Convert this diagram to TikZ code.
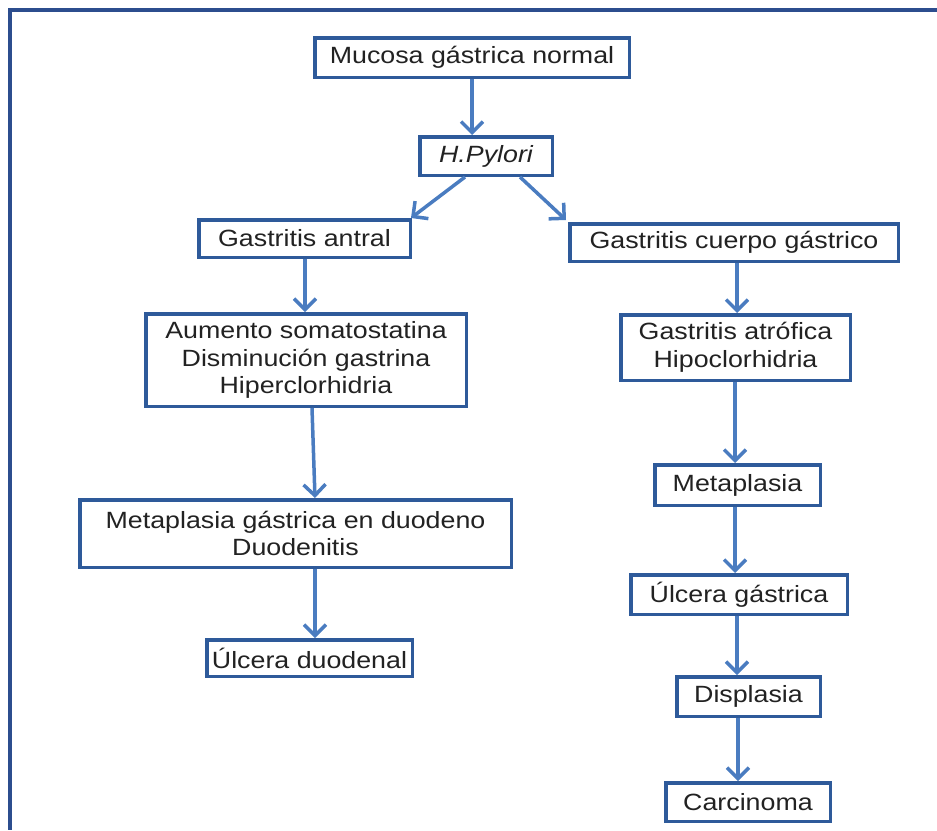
\documentclass[tikz,border=0pt]{standalone}
\usepackage{fontspec}
\setmainfont{Liberation Sans}[FakeStretch=1.14]
\usetikzlibrary{arrows.meta}
\definecolor{boxblue}{HTML}{2E5A9A}
\definecolor{arrblue}{HTML}{4A7CC0}
\definecolor{frameblue}{HTML}{2C4D8E}
\definecolor{txt}{HTML}{222222}
\tikzset{
  box/.style={draw=boxblue, line width=3.5pt, fill=white, inner sep=0pt,
    align=center, text=txt, font=\fontsize{23.5}{27.5}\selectfont},
  arr/.style={draw=arrblue, line width=3.5pt,
    -{Straight Barb[length=11pt,width=22pt,line width=3.5pt]}},
  frameline/.style={draw=frameblue, line width=3.5pt}
}
\begin{document}
\begin{tikzpicture}[x=1pt,y=-1pt]
\useasboundingbox (0,0) rectangle (937,830);
\coordinate (fr1) at (937,10);
\coordinate (fr2) at (10,10);
\coordinate (fr3) at (10,830);
\draw[frameline] (fr1) -- (fr2) -- (fr3);

\node[box, minimum width=314.5pt, minimum height=39.5pt] (muc) at (472,57.5) {Mucosa gástrica normal};
\node[box, minimum width=132.5pt, minimum height=38.5pt] (hp) at (486,156) {\itshape H.Pylori};
\node[box, minimum width=211.5pt, minimum height=37.5pt] (ant) at (304.5,238.5) {Gastritis antral};
\node[box, minimum width=328.5pt, minimum height=37.5pt] (cue) at (734,242.5) {Gastritis cuerpo gástrico};
\node[box, minimum width=229.5pt, minimum height=65.5pt] (atr) at (735.5,347.5) {Gastritis atrófica\\Hipoclorhidria};
\node[box, minimum width=320.5pt, minimum height=92.5pt] (aum) at (306,360) {Aumento somatostatina\\Disminución gastrina\\Hiperclorhidria};
\node[box, minimum width=431.5pt, minimum height=67.5pt] (mgd) at (295.5,533.5) {Metaplasia gástrica en duodeno\\Duodenitis};
\node[box, minimum width=205.5pt, minimum height=36.5pt] (ud) at (309.5,658) {Úlcera duodenal};
\node[box, minimum width=165.5pt, minimum height=40.5pt] (met) at (737.5,485) {Metaplasia};
\node[box, minimum width=216.5pt, minimum height=39.5pt] (ug) at (739,594.5) {Úlcera gástrica};
\node[box, minimum width=143.5pt, minimum height=39.5pt] (dis) at (748.5,696.5) {Displasia};
\node[box, minimum width=164.5pt, minimum height=38.5pt] (car) at (748,802) {Carcinoma};

\draw[arr] (muc.south) -- ([xshift=-14pt]hp.north);
\draw[arr] ([xshift=-21pt]hp.south) -- ([xshift=-1pt]ant.north east);
\draw[arr] ([xshift=34pt]hp.south) -- ([xshift=-2pt,yshift=2pt]cue.north west);
\draw[arr] ([xshift=0.5pt]ant.south) -- ([xshift=-1pt]aum.north);
\draw[arr] ([xshift=6pt]aum.south) -- ([xshift=19.5pt]mgd.north);
\draw[arr] ([xshift=19.5pt]mgd.south) -- ([xshift=5.5pt]ud.north);
\draw[arr] ([xshift=3pt]cue.south) -- ([xshift=1.5pt]atr.north);
\draw[arr] ([xshift=-0.5pt]atr.south) -- ([xshift=-2.5pt]met.north);
\draw[arr] ([xshift=-2.5pt]met.south) -- ([xshift=-4pt]ug.north);
\draw[arr] ([xshift=-2pt]ug.south) -- ([xshift=-11.5pt]dis.north);
\draw[arr] ([xshift=-10.5pt]dis.south) -- ([xshift=-10pt]car.north);
\end{tikzpicture}
\end{document}
